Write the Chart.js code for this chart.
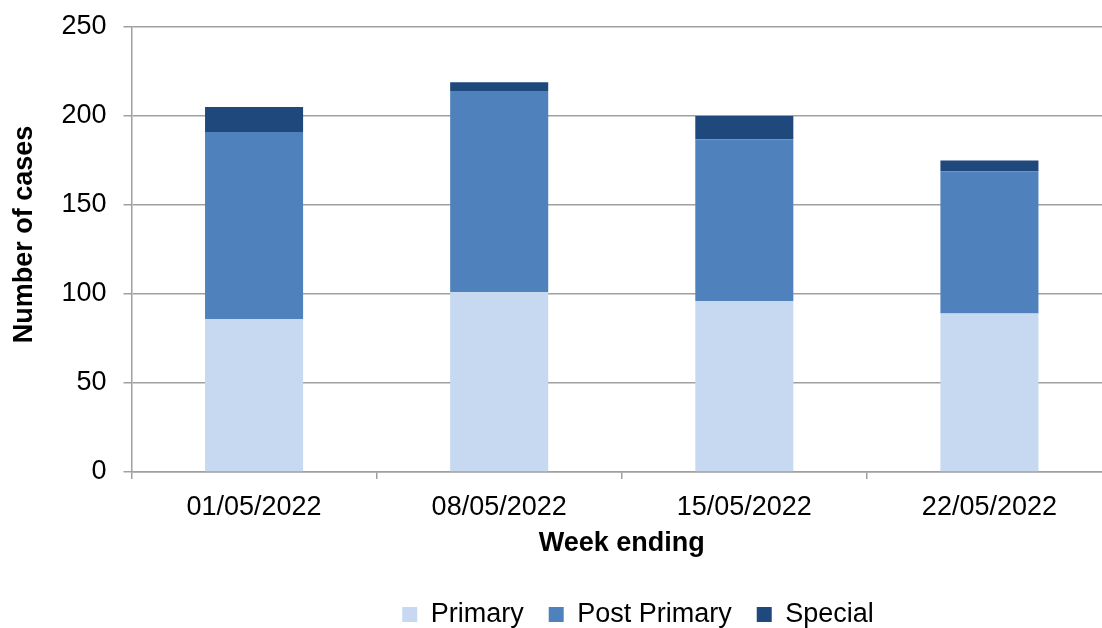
<!DOCTYPE html>
<html><head><meta charset="utf-8">
<script src="https://cdn.jsdelivr.net/npm/chart.js@4/dist/chart.umd.min.js"></script>
<style>
html,body{margin:0;padding:0;background:#fff;overflow:hidden;}
#wrap{width:1102px;height:628px;overflow:hidden;position:relative;}
canvas{position:absolute;left:0;top:0;}
</style></head><body>
<div id="wrap"><canvas id="c" width="1112" height="628"></canvas></div>
<script>
const categories = ['01/05/2022', '08/05/2022', '15/05/2022', '22/05/2022'];
const primary = [86, 101, 96, 89];
const postPrimary = [105, 113, 91, 80];
const special = [14, 5, 13, 6];
const yMin = 0, yMax = 250, yStep = 50;

const FONT = "'Liberation Sans', Arial, sans-serif";
const GRID = '#a0a0a0';

const legendShift = {
  id: 'legendShift',
  afterLayout(chart) {
    const l = chart.legend;
    if (!l) return;
    const dx = 638 - (l.left + l.right) / 2;
    const dy = 10;
    l.left += dx; l.right += dx; l.top += dy; l.bottom += dy;
  }
};

new Chart(document.getElementById('c'), {
  type: 'bar',
  data: {
    labels: categories,
    datasets: [
      { label: 'Primary', data: primary, backgroundColor: '#c6d9f1' },
      { label: 'Post Primary', data: postPrimary, backgroundColor: '#4f81bd' },
      { label: 'Special', data: special, backgroundColor: '#1f497d' }
    ]
  },
  options: {
    responsive: false,
    animation: false,
    devicePixelRatio: 1,
    layout: { padding: { top: 27, bottom: 0, left: 0, right: 0 } },
    datasets: { bar: { barPercentage: 1, categoryPercentage: 0.4, borderWidth: 0 } },
    plugins: {
      tooltip: { enabled: false },
      legend: {
        position: 'bottom',
        labels: {
          boxWidth: 15, boxHeight: 15, padding: 25,
          color: '#000',
          font: { family: FONT, size: 27 }
        }
      }
    },
    scales: {
      x: {
        stacked: true,
        grid: { drawOnChartArea: false, offset: true, color: GRID, lineWidth: 1.5, tickLength: 7 },
        border: { color: GRID, width: 1.5 },
        ticks: { color: '#000', padding: 12, maxRotation: 0, font: { family: FONT, size: 27 } },
        title: { display: true, text: 'Week ending', color: '#000', padding: { top: 0, bottom: 6 },
                 font: { family: FONT, size: 27, weight: 'bold' } },
        afterFit(s) { s.height = 94; s.paddingLeft = 0; s.paddingRight = 0; }
      },
      y: {
        stacked: true,
        min: yMin, max: yMax,
        grid: { color: GRID, lineWidth: 1.5, tickLength: 8 },
        border: { color: GRID, width: 1.5 },
        ticks: { stepSize: yStep, color: '#000', padding: 17, font: { family: FONT, size: 27 } },
        title: { display: true, text: '    Number of cases', color: '#000', padding: { top: 8, bottom: 10 },
                 font: { family: FONT, size: 27, weight: 'bold' } },
        afterFit(s) { s.width = 131.5; s.paddingTop = 0; s.paddingBottom = 0; }
      }
    }
  },
  plugins: [legendShift]
});
</script>
</body></html>
